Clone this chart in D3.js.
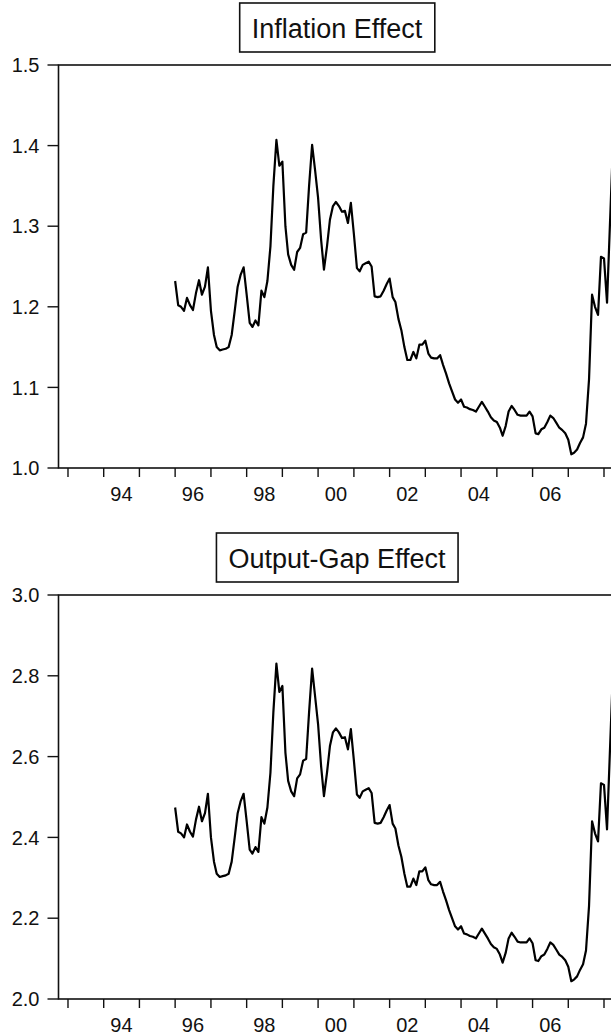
<!DOCTYPE html>
<html>
<head>
<meta charset="utf-8">
<script src="https://cdn.jsdelivr.net/npm/d3@7"></script>
<style>
  html, body { margin: 0; padding: 0; background: #fff; }
  svg { display: block; font-family: "Liberation Sans", Arial, sans-serif; }
</style>
</head>
<body>
<div id="chart"></div>
<script>
// Data (monthly, first observation Jan 1996)
const firstMonth = new Date(1996, 0, 1);

const inflationEffect = [
  1.232, 1.202, 1.200, 1.195, 1.211, 1.202, 1.196, 1.217, 1.233, 1.215, 1.225, 1.249,
  1.195, 1.165, 1.150, 1.146, 1.147, 1.148, 1.150, 1.165, 1.195, 1.225, 1.240, 1.249,
  1.215, 1.180, 1.175, 1.183, 1.177, 1.220, 1.212, 1.232, 1.275, 1.350, 1.407, 1.375,
  1.380, 1.300, 1.265, 1.252, 1.246, 1.268, 1.273, 1.290, 1.292, 1.350, 1.401, 1.370,
  1.335, 1.283, 1.246, 1.275, 1.308, 1.325, 1.330, 1.325, 1.318, 1.319, 1.304, 1.329,
  1.290, 1.248, 1.244, 1.252, 1.254, 1.256, 1.250, 1.213, 1.212, 1.213, 1.220, 1.228,
  1.235, 1.212, 1.206, 1.185, 1.171, 1.150, 1.134, 1.134, 1.144, 1.136, 1.153, 1.153,
  1.158, 1.142, 1.137, 1.136, 1.136, 1.140, 1.128, 1.117, 1.105, 1.095, 1.085, 1.081,
  1.085, 1.076, 1.075, 1.073, 1.072, 1.070, 1.076, 1.082, 1.076, 1.070, 1.063, 1.059,
  1.057, 1.050, 1.040, 1.052, 1.070, 1.077, 1.072, 1.066, 1.065, 1.065, 1.065, 1.070,
  1.064, 1.043, 1.042, 1.048, 1.050, 1.057, 1.065, 1.062, 1.056, 1.050, 1.047, 1.043,
  1.035, 1.017, 1.019, 1.023, 1.031, 1.038, 1.055, 1.110, 1.215, 1.200, 1.190, 1.262,
  1.260, 1.205, 1.300, 1.400
];

const outputGapEffect = [
  2.474, 2.414, 2.410, 2.400, 2.432, 2.414, 2.402, 2.444, 2.476, 2.440, 2.460, 2.508,
  2.400, 2.340, 2.310, 2.302, 2.304, 2.306, 2.310, 2.340, 2.400, 2.460, 2.490, 2.508,
  2.440, 2.370, 2.360, 2.376, 2.364, 2.450, 2.434, 2.474, 2.560, 2.710, 2.830, 2.760,
  2.775, 2.610, 2.540, 2.514, 2.502, 2.546, 2.556, 2.590, 2.594, 2.710, 2.818, 2.750,
  2.680, 2.576, 2.502, 2.560, 2.626, 2.660, 2.670, 2.660, 2.646, 2.648, 2.618, 2.668,
  2.590, 2.506, 2.498, 2.514, 2.518, 2.522, 2.510, 2.436, 2.434, 2.436, 2.450, 2.466,
  2.480, 2.434, 2.422, 2.380, 2.352, 2.310, 2.278, 2.278, 2.298, 2.282, 2.316, 2.316,
  2.326, 2.294, 2.284, 2.282, 2.282, 2.290, 2.266, 2.244, 2.220, 2.200, 2.180, 2.172,
  2.180, 2.162, 2.160, 2.156, 2.154, 2.150, 2.162, 2.174, 2.162, 2.150, 2.136, 2.128,
  2.124, 2.110, 2.090, 2.114, 2.150, 2.164, 2.154, 2.142, 2.140, 2.140, 2.140, 2.150,
  2.138, 2.096, 2.094, 2.106, 2.110, 2.124, 2.140, 2.134, 2.122, 2.110, 2.104, 2.096,
  2.080, 2.044, 2.048, 2.056, 2.072, 2.086, 2.120, 2.230, 2.440, 2.410, 2.390, 2.534,
  2.530, 2.420, 2.610, 2.810
];

// Axis ticks / labels
const yearTicks = [1993, 1994, 1995, 1996, 1997, 1998, 1999, 2000, 2001, 2002, 2003, 2004, 2005, 2006, 2007, 2008];
const labelYears = [1994, 1996, 1998, 2000, 2002, 2004, 2006];
const xTickLabels = ["94", "96", "98", "00", "02", "04", "06"];
const inflationTicks = [1.0, 1.1, 1.2, 1.3, 1.4, 1.5];
const outputGapTicks = [2.0, 2.2, 2.4, 2.6, 2.8, 3.0];

// Dimensions
const W = 611, H = 1035;
const plotLeft = 58.5, plotRight = 617.5;

const panels = [
  { title: "Inflation Effect", values: inflationEffect, ticks: inflationTicks,
    domain: [1.0, 1.5], top: 65, bottom: 468, boxTop: 3 },
  { title: "Output-Gap Effect", values: outputGapEffect, ticks: outputGapTicks,
    domain: [2.0, 3.0], top: 595, bottom: 999, boxTop: 533 }
];

const svg = d3.select("#chart").append("svg")
  .attr("width", W)
  .attr("height", H);

// Scales
const xScale = d3.scaleTime()
  .domain([new Date(1992, 8, 26), new Date(2008, 4, 18)])
  .range([plotLeft, plotRight]);

const dates = inflationEffect.map((_, i) => d3.timeMonth.offset(firstMonth, i));
const fmt = d3.format(".1f");

panels.forEach((p, k) => {
  const yScale = d3.scaleLinear()
    .domain(p.domain)
    .range([p.bottom, p.top]);

  const g = svg.append("g");

  // clip for the line
  const clipId = "clip" + k;
  svg.append("clipPath").attr("id", clipId)
    .append("rect")
    .attr("x", plotLeft).attr("y", p.top)
    .attr("width", plotRight - plotLeft).attr("height", p.bottom - p.top);

  // frame
  g.append("rect")
    .attr("x", plotLeft).attr("y", p.top)
    .attr("width", plotRight - plotLeft).attr("height", p.bottom - p.top)
    .attr("fill", "none")
    .attr("stroke", "#111")
    .attr("stroke-width", 1.6);

  // y axis ticks
  const yt = g.selectAll(".ytick")
    .data(p.ticks)
    .enter().append("g")
    .attr("transform", d => `translate(${plotLeft},${yScale(d)})`);

  yt.append("line")
    .attr("x1", -11).attr("x2", 0)
    .attr("stroke", "#111").attr("stroke-width", 1.4);

  yt.append("text")
    .attr("x", -19)
    .attr("dy", "0.36em")
    .attr("text-anchor", "end")
    .attr("font-size", 20)
    .attr("fill", "#111")
    .text(d => fmt(d));

  // x axis ticks
  g.selectAll(".xtick")
    .data(yearTicks)
    .enter().append("line")
    .attr("x1", d => xScale(new Date(d, 0, 1)))
    .attr("x2", d => xScale(new Date(d, 0, 1)))
    .attr("y1", p.bottom)
    .attr("y2", p.bottom + 9)
    .attr("stroke", "#111").attr("stroke-width", 1.4);

  g.selectAll(".xlabel")
    .data(labelYears)
    .enter().append("text")
    .attr("x", d => xScale(new Date(d, 6, 1)))
    .attr("y", p.bottom + 33)
    .attr("text-anchor", "middle")
    .attr("font-size", 20)
    .attr("fill", "#111")
    .text((d, i) => xTickLabels[i]);

  // data line
  const line = d3.line()
    .x((d, i) => xScale(dates[i]))
    .y(d => yScale(d));

  g.append("path")
    .datum(p.values)
    .attr("clip-path", `url(#${clipId})`)
    .attr("fill", "none")
    .attr("stroke", "#000")
    .attr("stroke-width", 2.2)
    .attr("stroke-linejoin", "round")
    .attr("d", line);

  // title box
  const cx = (plotLeft + plotRight) / 2 - 1;
  const box = g.append("rect");
  const title = g.append("text")
    .attr("x", cx)
    .attr("y", p.boxTop + 35)
    .attr("text-anchor", "middle")
    .attr("font-size", 27)
    .attr("fill", "#111")
    .text(p.title);

  const bb = title.node().getBBox();
  box
    .attr("x", bb.x - 12)
    .attr("y", p.boxTop)
    .attr("width", bb.width + 24)
    .attr("height", 49)
    .attr("fill", "#fff")
    .attr("stroke", "#111")
    .attr("stroke-width", 1.6);
});
</script>
</body>
</html>
